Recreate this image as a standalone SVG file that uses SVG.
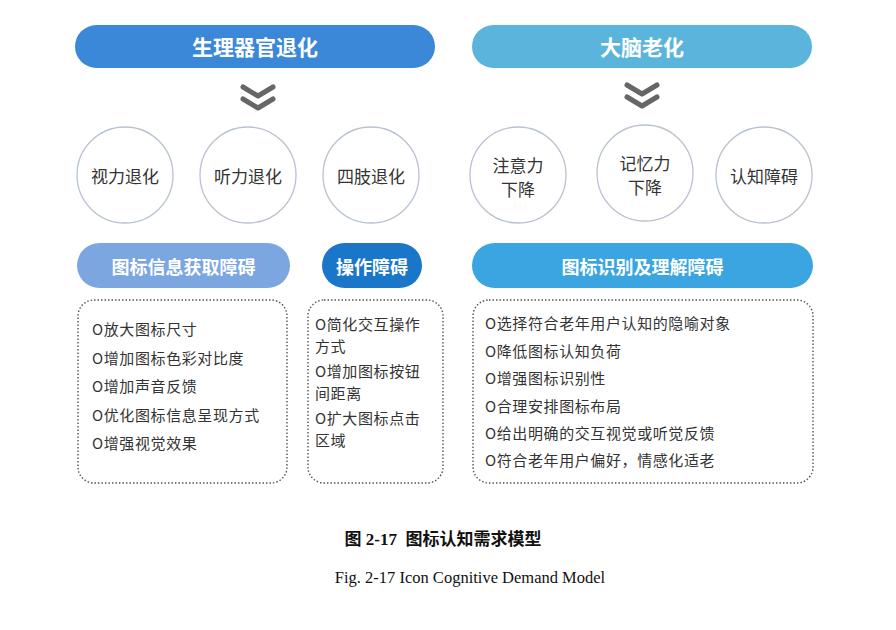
<svg xmlns="http://www.w3.org/2000/svg" width="896" height="630" viewBox="0 0 896 630">
<style>
.pt{font-family:"Noto Sans CJK SC","Noto Sans",sans-serif;font-weight:bold;fill:#fff;text-anchor:middle;dominant-baseline:central}
.ct{font-family:"Noto Sans CJK SC","Noto Sans",sans-serif;font-size:17px;fill:#333;text-anchor:middle;dominant-baseline:central}
.circ{fill:#fff;stroke:#b9c2d2;stroke-width:1.3}
.box{fill:none;stroke:#555;stroke-width:1.4;stroke-dasharray:1.5 2}
.it{font-family:"Noto Sans CJK SC","Noto Sans",sans-serif;font-size:15px;fill:#333;dominant-baseline:central;letter-spacing:0.6px}
.chev{fill:none;stroke:#666;stroke-width:5;stroke-linecap:round;stroke-linejoin:round}
</style>
<rect width="896" height="630" fill="#fff"/>

<g id="physio">
<rect x="75" y="25" width="360" height="43" rx="21.5" fill="#3b87d8"/>
<text class="pt" x="255" y="46" font-size="21">生理器官退化</text>
</g>
<g id="brain">
<rect x="472" y="25" width="340" height="43" rx="21.5" fill="#5ab4dc"/>
<text class="pt" x="642" y="46" font-size="21">大脑老化</text>
</g>

<g id="connectors">
<polyline class="chev" points="243,87 258,96 273,87"/>
<polyline class="chev" points="243,99 258,108 273,99"/>
<polyline class="chev" points="627,85 642,94 657,85"/>
<polyline class="chev" points="627,97 642,106 657,97"/>
</g>

<g id="vision"><circle class="circ" cx="125" cy="175" r="48"/><text class="ct" x="125" y="175">视力退化</text></g>
<g id="hearing"><circle class="circ" cx="248" cy="175" r="48"/><text class="ct" x="248" y="175">听力退化</text></g>
<g id="limbs"><circle class="circ" cx="371" cy="175" r="48"/><text class="ct" x="371" y="175">四肢退化</text></g>
<g id="attention"><circle class="circ" cx="518" cy="175" r="48"/><text class="ct" x="518" y="164">注意力</text><text class="ct" x="518" y="188">下降</text></g>
<g id="memory"><circle class="circ" cx="645" cy="173" r="48"/><text class="ct" x="645" y="162">记忆力</text><text class="ct" x="645" y="186">下降</text></g>
<g id="cognition"><circle class="circ" cx="764" cy="175" r="48"/><text class="ct" x="764" y="175">认知障碍</text></g>

<g id="info">
<rect x="77" y="243" width="213" height="45" rx="22.5" fill="#7ba6e0"/>
<text class="pt" x="183.5" y="265.5" font-size="18">图标信息获取障碍</text>
<rect class="box" x="78" y="300" width="209" height="183" rx="16"/>
<text class="it" x="92" y="328">O放大图标尺寸</text>
<text class="it" x="92" y="357">O增加图标色彩对比度</text>
<text class="it" x="92" y="385">O增加声音反馈</text>
<text class="it" x="92" y="414">O优化图标信息呈现方式</text>
<text class="it" x="92" y="442">O增强视觉效果</text>
</g>

<g id="operation">
<rect x="322" y="243" width="100" height="45" rx="22.5" fill="#1a76c9"/>
<text class="pt" x="372" y="265.5" font-size="18">操作障碍</text>
<rect class="box" x="308" y="300" width="135" height="183" rx="16"/>
<text class="it" x="315" y="323">O简化交互操作</text>
<text class="it" x="315" y="345">方式</text>
<text class="it" x="315" y="370">O增加图标按钮</text>
<text class="it" x="315" y="392">间距离</text>
<text class="it" x="315" y="417">O扩大图标点击</text>
<text class="it" x="315" y="439">区域</text>
</g>

<g id="recognition">
<rect x="472" y="243" width="341" height="45" rx="22.5" fill="#3aa5e0"/>
<text class="pt" x="642.5" y="265.5" font-size="18">图标识别及理解障碍</text>
<rect class="box" x="473" y="300" width="340" height="183" rx="16"/>
<text class="it" x="485" y="322" font-size="16">O选择符合老年用户认知的隐喻对象</text>
<text class="it" x="485" y="350" font-size="16">O降低图标认知负荷</text>
<text class="it" x="485" y="377" font-size="16">O增强图标识别性</text>
<text class="it" x="485" y="405" font-size="16">O合理安排图标布局</text>
<text class="it" x="485" y="432" font-size="16">O给出明确的交互视觉或听觉反馈</text>
<text class="it" x="485" y="459" font-size="16">O符合老年用户偏好，情感化适老</text>
</g>

<text x="443" y="545" xml:space="preserve" font-family="Liberation Serif,'Noto Sans CJK SC',serif" font-size="17" font-weight="bold" fill="#111" text-anchor="middle">图 2-17  图标认知需求模型</text>
<text x="470" y="583" font-family="Liberation Serif,serif" font-size="16.5" fill="#111" text-anchor="middle">Fig. 2-17 Icon Cognitive Demand Model</text>
</svg>
